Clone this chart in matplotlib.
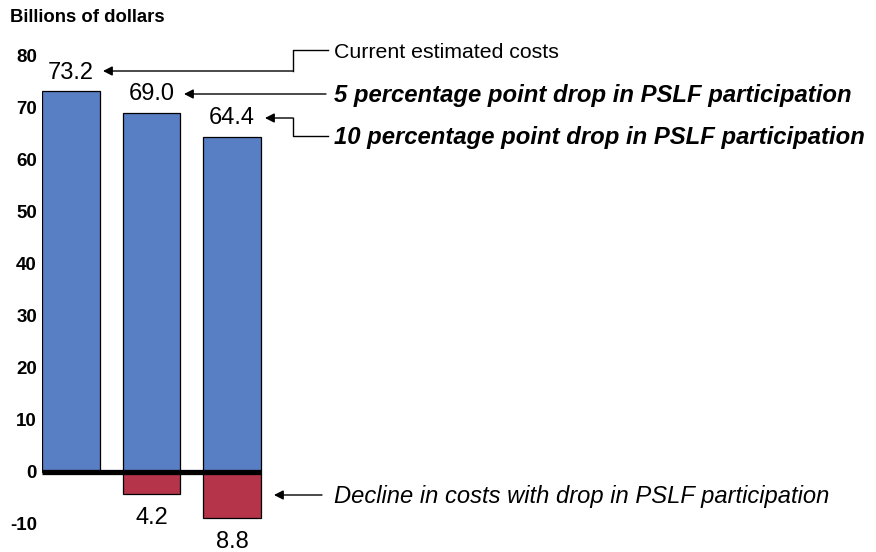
import matplotlib
matplotlib.use("Agg")
import matplotlib.pyplot as plt

plt.rcParams['font.family'] = ['Liberation Sans', 'DejaVu Sans']

# ---- data ----
scenarios = ["Current estimated costs",
             "5 percentage point drop in PSLF participation",
             "10 percentage point drop in PSLF participation"]
costs = [73.2, 69.0, 64.4]
declines = [0.0, -4.2, -8.8]
cost_labels = ["73.2", "69.0", "64.4"]
decline_labels = ["", "4.2", "8.8"]
yticks = [-10, 0, 10, 20, 30, 40, 50, 60, 70, 80]
decline_note = "Decline in costs with drop in PSLF participation"

W, H = 876, 552
fig = plt.figure(figsize=(W / 100, H / 100), dpi=100)

# axes geometry in pixels
px_per_x = 80.5
px_per_y = 5.2
zero_px = 472
left_px = 42
x0 = -0.36
x1 = x0 + (W - left_px) / px_per_x
ytop, ybot = 84, -12
top_px = zero_px - ytop * px_per_y
bot_px = zero_px - ybot * px_per_y
ax = fig.add_axes([left_px / W, 1 - bot_px / H, 1 - left_px / W, (bot_px - top_px) / H])
ax.set_xlim(x0, x1)
ax.set_ylim(ybot, ytop)

blue = "#587EC4"
red = "#B5344A"
xs = list(range(len(costs)))
bw = 0.72
ax.bar(xs, costs, width=bw, color=blue, edgecolor="black", linewidth=0.9, zorder=2)
neg_x = [x for x, d in zip(xs, declines) if d != 0]
neg_v = [d for d in declines if d != 0]
ax.bar(neg_x, neg_v, width=bw, color=red, edgecolor="black", linewidth=0.9, zorder=2)
ax.hlines(0, xs[0] - bw / 2, xs[-1] + bw / 2, color="black", linewidth=3.8, zorder=3)

for x, v, lab in zip(xs, costs, cost_labels):
    ax.text(x, v + 3.6, lab, ha="center", va="center", fontsize=17)
for x, v, lab in zip(xs, declines, decline_labels):
    if lab:
        ax.text(x, v - 4.6, lab, ha="center", va="center", fontsize=17)

for s in ax.spines.values():
    s.set_visible(False)
ax.set_xticks([])
ax.set_yticks(yticks)
ax.set_yticklabels([str(t) for t in yticks], fontweight="bold", fontsize=13.5)
ax.tick_params(axis="y", length=0, pad=3.6)

fig.text(10 / W, 1 - 18 / H, "Billions of dollars", fontweight="bold", fontsize=13.3,
         ha="left", va="center")

# annotations (coordinates in data units)
def px2x(p):
    return x0 + (p - left_px) / px_per_x

def py2y(p):
    return (zero_px - p) / px_per_y

tx = px2x(334)
dy = 2  # text vertical offset in px
arrowprops = dict(arrowstyle="-|>,head_length=0.55,head_width=0.28", color="black", lw=1.0,
                  shrinkA=0, shrinkB=0)

# current estimated costs
ax.text(tx, py2y(50 + dy), scenarios[0], fontsize=15.3, ha="left", va="center")
ax.plot([px2x(328), px2x(293), px2x(293)], [py2y(50), py2y(50), py2y(71)], color="black", lw=1.0)
ax.annotate("", xy=(px2x(103), py2y(71)), xytext=(px2x(293), py2y(71)), arrowprops=arrowprops)

# 5 pp
ax.text(tx, py2y(94 + dy), scenarios[1], fontsize=17.2, fontweight="bold", fontstyle="italic",
        ha="left", va="center")
ax.annotate("", xy=(px2x(184), py2y(94)), xytext=(px2x(326), py2y(94)), arrowprops=arrowprops)

# 10 pp
ax.text(tx, py2y(136 + dy), scenarios[2], fontsize=17.2, fontweight="bold", fontstyle="italic",
        ha="left", va="center")
ax.plot([px2x(328), px2x(293), px2x(293)], [py2y(136), py2y(136), py2y(118)], color="black", lw=1.0)
ax.annotate("", xy=(px2x(265), py2y(118)), xytext=(px2x(293), py2y(118)), arrowprops=arrowprops)

# decline
ax.text(tx, py2y(495 + dy), decline_note, fontsize=17.1, fontstyle="italic", ha="left", va="center")
ax.annotate("", xy=(px2x(274), py2y(495)), xytext=(px2x(322), py2y(495)), arrowprops=arrowprops)

fig.savefig("out.png", dpi=100)
